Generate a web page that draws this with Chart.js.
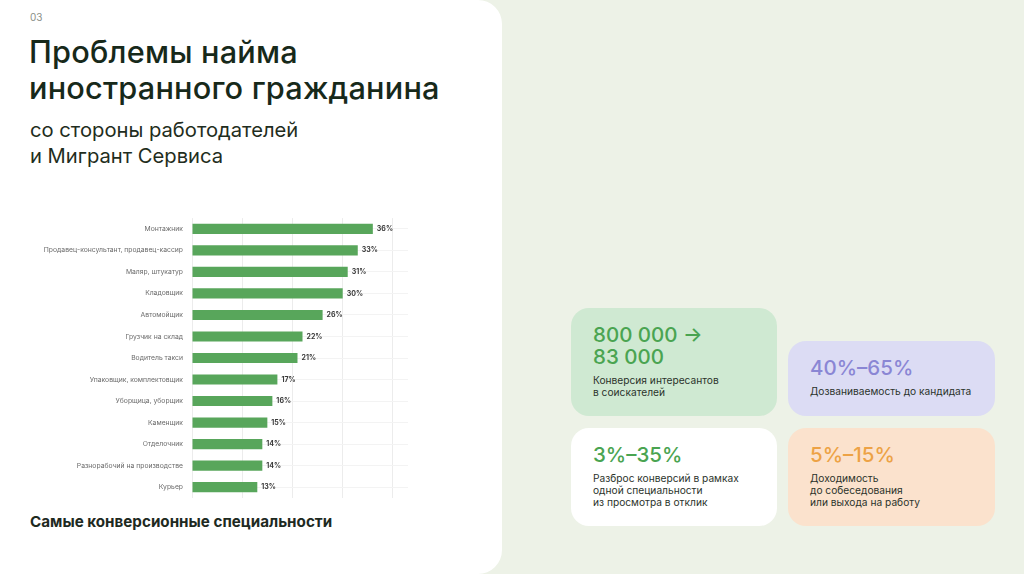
<!DOCTYPE html>
<html lang="ru">
<head>
<meta charset="utf-8">
<script src="https://cdn.jsdelivr.net/npm/chart.js@4.4.1/dist/chart.umd.min.js"></script>
<style>
  html, body { margin:0; padding:0; }
  body { width:1024px; height:574px; background:#edf2e7; position:relative; overflow:hidden; font-family: Inter, "Noto Sans", sans-serif; }
  .panel { position:absolute; left:0; top:0; width:502px; height:574px; background:#fff; border-radius:0 24px 24px 0; }
  .num { position:absolute; left:30px; top:11px; font-size:10px; color:#8a8f88; }
  .title { position:absolute; left:29px; top:34px; font-size:30.7px; line-height:36px; color:#17291a; font-weight:500; letter-spacing:0.2px; }
  .sub { position:absolute; left:30px; top:117px; font-size:20.2px; line-height:26px; color:#1f2d20; }
  .caption { position:absolute; left:30px; top:512px; font-size:15.2px; font-weight:700; color:#1e2a1f; }
  #wrap { position:absolute; left:0; top:205px; width:420px; height:306px; }
  .card { position:absolute; border-radius:18px; }
  .card .big { font-size:20.5px; line-height:22px; font-weight:500; }
  .card .small { font-size:10.2px; line-height:12px; color:#2b332b; margin-top:6px; }
  .c1 { left:571px; top:308px; width:206px; height:108px; background:#cfe9d2; }
  .c2 { left:788px; top:341px; width:207px; height:75px; background:#dcdcf4; }
  .c3 { left:571px; top:428px; width:206px; height:98px; background:#ffffff; }
  .c4 { left:788px; top:428px; width:207px; height:98px; background:#fbe2cd; }
  .inner { position:absolute; left:22px; top:16px; }
</style>
</head>
<body>
<div class="panel">
  <div class="num">03</div>
  <div class="title">Проблемы найма<br>иностранного гражданина</div>
  <div class="sub">со стороны работодателей<br>и Мигрант Сервиса</div>
  <div id="wrap"><canvas id="chart"></canvas></div>
  <div class="caption">Самые конверсионные специальности</div>
</div>

<div class="card c1"><div class="inner">
  <div class="big" style="color:#4aa451">800 000 →<br>83 000</div>
  <div class="small">Конверсия интересантов<br>в соискателей</div>
</div></div>
<div class="card c2"><div class="inner">
  <div class="big" style="color:#8a86d4">40%–65%</div>
  <div class="small">Дозваниваемость до кандидата</div>
</div></div>
<div class="card c3"><div class="inner">
  <div class="big" style="color:#4aa451">3%–35%</div>
  <div class="small">Разброс конверсий в рамках<br>одной специальности<br>из просмотра в отклик</div>
</div></div>
<div class="card c4"><div class="inner">
  <div class="big" style="color:#eda245">5%–15%</div>
  <div class="small">Доходимость<br>до собеседования<br>или выхода на работу</div>
</div></div>

<script>
const categories = [
  "Монтажник",
  "Продавец-консультант, продавец-кассир",
  "Маляр, штукатур",
  "Кладовщик",
  "Автомойщик",
  "Грузчик на склад",
  "Водитель такси",
  "Упаковщик, комплектовщик",
  "Уборщица, уборщик",
  "Каменщик",
  "Отделочник",
  "Разнорабочий на производстве",
  "Курьер"
];
const values = [36, 33, 31, 30, 26, 22, 21, 17, 16, 15, 14, 14, 13];
const xTicks = [0, 10, 20, 30, 40];

const valueLabels = {
  id: 'valueLabels',
  afterDatasetsDraw(chart) {
    const ctx = chart.ctx;
    const meta = chart.getDatasetMeta(0);
    ctx.save();
    ctx.font = '700 7px Inter, "Noto Sans", sans-serif';
    ctx.fillStyle = '#3a3a3a';
    ctx.textBaseline = 'middle';
    ctx.textAlign = 'left';
    meta.data.forEach((bar, i) => {
      ctx.fillText(values[i] + '%', bar.x + 4, bar.y);
    });
    ctx.restore();
  }
};

new Chart(document.getElementById('chart'), {
  type: 'bar',
  data: {
    labels: categories,
    datasets: [{
      data: values,
      backgroundColor: '#58a65b',
      barPercentage: 0.47,
      categoryPercentage: 1.0
    }]
  },
  options: {
    indexAxis: 'y',
    responsive: true,
    maintainAspectRatio: false,
    animation: false,
    layout: { padding: { top: 7, bottom: 3, right: 12, left: 0 } },
    plugins: { legend: { display: false }, tooltip: { enabled: false } },
    scales: {
      x: {
        min: 0, max: 43,
        afterBuildTicks(scale) { scale.ticks = xTicks.map(v => ({ value: v })); },
        ticks: { display: false },
        border: { display: false },
        grid: { color: '#ececec', drawTicks: false, lineWidth: 1 }
      },
      y: {
        afterFit(scale) { scale.width = 192; },
        ticks: {
          color: '#6b6b6b',
          padding: 9,
          font: { size: 6.8, family: 'Inter, "Noto Sans", sans-serif' }
        },
        border: { display: false },
        grid: { color: '#f3f3f3', offset: false, drawTicks: false }
      }
    }
  },
  plugins: [valueLabels]
});
</script>
</body>
</html>
